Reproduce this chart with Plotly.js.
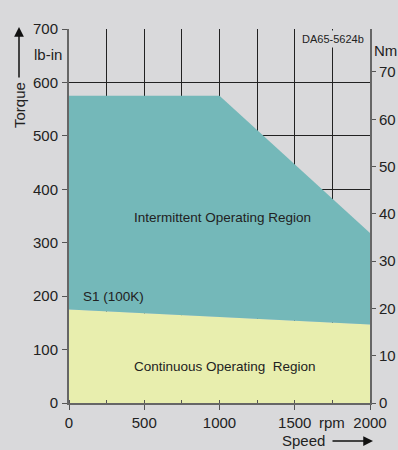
<!DOCTYPE html>
<html>
<head>
<meta charset="utf-8">
<script src="https://cdn.plot.ly/plotly-3.0.1.min.js"></script>
<style>
html,body{margin:0;padding:0;background:#d9d9db;}
#chart{width:398px;height:450px;}
</style>
</head>
<body>
<div id="chart"></div>
<script>
// Data
const speedIntermittent = [0, 1000, 2000];      // rpm
const torqueIntermittent = [575, 575, 318];     // lb-in
const speedContinuous = [0, 2000];              // rpm
const torqueContinuous = [175, 147];            // lb-in (S1, 100K)
const xTicks = [0, 500, 1000, 1500, 2000];
const xTickText = ['0', '500', '1000', '1500', '2000'];
const lbinPerNm = 8.851;

const font = 'Arial, "Liberation Sans", sans-serif';
const traces = [
  {x: speedContinuous, y: torqueContinuous, type: 'scatter', mode: 'lines',
   line: {width: 0, color: '#e8eeae'}, fill: 'tozeroy', fillcolor: '#e8eeae',
   hoverinfo: 'skip', showlegend: false},
  {x: speedIntermittent, y: torqueIntermittent, type: 'scatter', mode: 'lines',
   line: {width: 0, color: '#74b8b9'}, fill: 'tonexty', fillcolor: '#74b8b9',
   hoverinfo: 'skip', showlegend: false},
  {x: [0], y: [0], yaxis: 'y2', type: 'scatter', mode: 'none',
   hoverinfo: 'skip', showlegend: false}
];

function px(x) { return (x - 69) / 301; }
function py(y) { return (403 - y) / 374; }
function lab(x, y, text, size, extra) {
  return Object.assign({xref: 'paper', yref: 'paper', x: px(x), y: py(y), text: text,
    xanchor: 'center', yanchor: 'middle', showarrow: false,
    font: {size: size, color: '#222'}}, extra || {});
}

const layout = {
  width: 398, height: 450,
  paper_bgcolor: '#d9d9db', plot_bgcolor: '#d9d9db',
  margin: {l: 69, r: 28, t: 29, b: 47},
  font: {family: font, color: '#222', size: 15},
  showlegend: false,
  xaxis: {
    range: [0, 2000], tickvals: xTicks, ticktext: xTickText,
    ticks: 'outside', ticklen: 5, tickcolor: '#555', tickwidth: 1,
    showgrid: true, gridcolor: '#222', gridwidth: 1,
    minor: {dtick: 250, showgrid: true, gridcolor: '#222', gridwidth: 1, ticks: 'inside', ticklen: 3, tickcolor: '#555'},
    zeroline: false, showline: true, linecolor: '#666', linewidth: 2,
    tickfont: {size: 15, color: '#222'}, fixedrange: true
  },
  yaxis: {
    range: [0, 700], dtick: 100,
    ticks: 'outside', ticklen: 5, tickcolor: '#555', tickwidth: 1,
    showgrid: true, gridcolor: '#222', gridwidth: 1,
    zeroline: false, showline: true, linecolor: '#666', linewidth: 2,
    tickfont: {size: 15, color: '#222'}, ticklabelstandoff: 1, fixedrange: true
  },
  yaxis2: {
    overlaying: 'y', side: 'right', range: [0, 700 / lbinPerNm], dtick: 10,
    ticks: 'outside', ticklen: 4, tickcolor: '#555', tickwidth: 1,
    showgrid: false, zeroline: false, showline: true, linecolor: '#666', linewidth: 2,
    tickfont: {size: 15, color: '#222'}, ticklabelstandoff: 0, fixedrange: true
  },
  annotations: [
    {xref: 'x', yref: 'y', x: 1023, y: 348, text: 'Intermittent Operating Region',
     xanchor: 'center', yanchor: 'middle', showarrow: false, font: {size: 13.5, color: '#222'}},
    {xref: 'x', yref: 'y', x: 1037, y: 68, text: 'Continuous Operating\u00a0 Region',
     xanchor: 'center', yanchor: 'middle', showarrow: false, font: {size: 13.5, color: '#222'}},
    {xref: 'x', yref: 'y', x: 296, y: 199, text: 'S1 (100K)',
     xanchor: 'center', yanchor: 'middle', showarrow: false, font: {size: 13.5, color: '#222'}},
    lab(333, 39, 'DA65-5624b', 11, {bgcolor: '#d9d9db', borderpad: 2}),
    lab(47.5, 54, 'lb-in', 15),
    lab(386, 50, 'Nm', 15),
    lab(332, 422, 'rpm', 15),
    lab(303, 440, 'Speed', 15),
    lab(19, 105, 'Torque', 15, {textangle: -90}),
    // arrows
    {xref: 'paper', yref: 'paper', x: px(19), y: py(27), text: '',
     showarrow: true, ax: 0, ay: 52, arrowhead: 2, arrowsize: 1.3, arrowwidth: 1.5, arrowcolor: '#111'},
    {xref: 'paper', yref: 'paper', x: px(373), y: py(441), text: '',
     showarrow: true, ax: -42, ay: 0, arrowhead: 2, arrowsize: 1.3, arrowwidth: 1.5, arrowcolor: '#111'}
  ]
};

Plotly.newPlot('chart', traces, layout, {displayModeBar: false, staticPlot: true});
</script>
</body>
</html>
